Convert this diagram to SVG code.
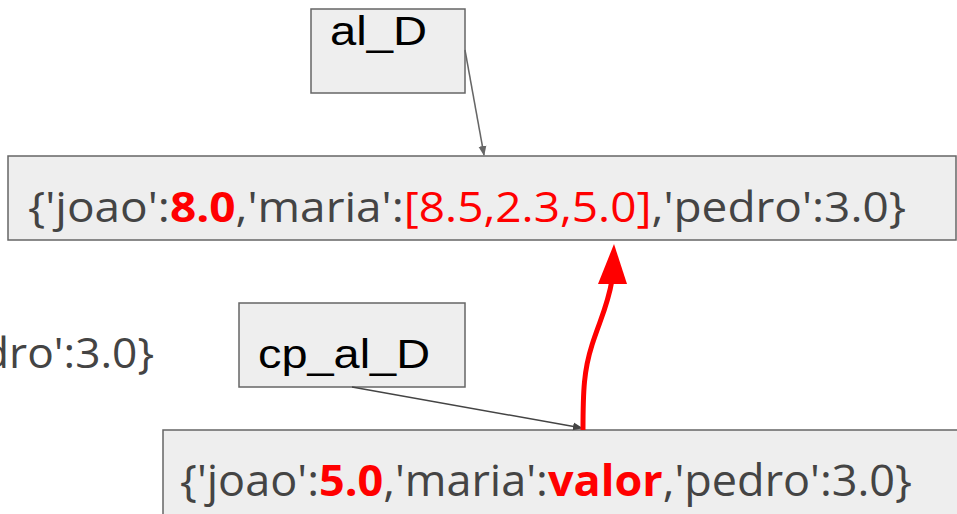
<svg xmlns="http://www.w3.org/2000/svg" width="957" height="514" viewBox="0 0 957 514">
<defs>
<style>
.box{fill:#eeeeee;stroke:#666666;stroke-width:1.5}
.lbl{font-family:"Liberation Sans",Arial,sans-serif;fill:#000000}
.val{font-family:"Open Sans","Noto Sans",sans-serif;fill:#444444}
.r{fill:#ff0000}
.b{font-weight:bold}
</style>
<marker id="ag" markerWidth="10" markerHeight="10" refX="9" refY="5" orient="auto" markerUnits="userSpaceOnUse">
<path d="M0,1 L10,5 L0,9 Z" fill="#666666"/>
</marker>
<marker id="ad" markerWidth="10" markerHeight="10" refX="9" refY="5" orient="auto" markerUnits="userSpaceOnUse">
<path d="M0,1 L10,5 L0,9 Z" fill="#444444"/>
</marker>
</defs>
<rect width="957" height="514" fill="#ffffff"/>
<g id="left-partial">
<text class="val" x="154" y="368" font-size="42" textLength="172" lengthAdjust="spacingAndGlyphs" text-anchor="end">dro':3.0}</text>
</g>
<g id="al_D">
<rect class="box" x="311" y="9" width="154" height="84"/>
<text class="lbl" x="330" y="45" font-size="40" textLength="97" lengthAdjust="spacingAndGlyphs">al_D</text>
</g>
<g id="dict1">
<rect class="box" x="8" y="156" width="948" height="84"/>
<text class="val" x="28" y="222" font-size="42" textLength="878" lengthAdjust="spacingAndGlyphs">{'joao':<tspan class="r b">8.0</tspan>,'maria':<tspan class="r">[8.5,2.3,5.0]</tspan>,'pedro':3.0}</text>
</g>
<g id="cp_al_D">
<rect class="box" x="239" y="303" width="226" height="84"/>
<text class="lbl" x="258" y="368" font-size="40" textLength="172" lengthAdjust="spacingAndGlyphs">cp_al_D</text>
</g>
<g id="dict2">
<rect class="box" x="163" y="430" width="800" height="90"/>
<text class="val" x="180" y="496" font-size="43" textLength="732" lengthAdjust="spacingAndGlyphs">{'joao':<tspan class="r b">5.0</tspan>,'maria':<tspan class="r b">valor</tspan>,'pedro':3.0}</text>
</g>
<g id="connectors">
<line x1="465" y1="50" x2="484" y2="155" stroke="#666666" stroke-width="1.5" marker-end="url(#ag)"/>
<line x1="352" y1="387" x2="582" y2="428" stroke="#444444" stroke-width="1.5" marker-end="url(#ad)"/>
<path d="M583,430 C583,390 584,370 592,345 C600,320 608,305 612,280" fill="none" stroke="#ff0000" stroke-width="5"/>
<path d="M614,244 L627,284 L598,284 Z" fill="#ff0000"/>
</g>
</svg>
